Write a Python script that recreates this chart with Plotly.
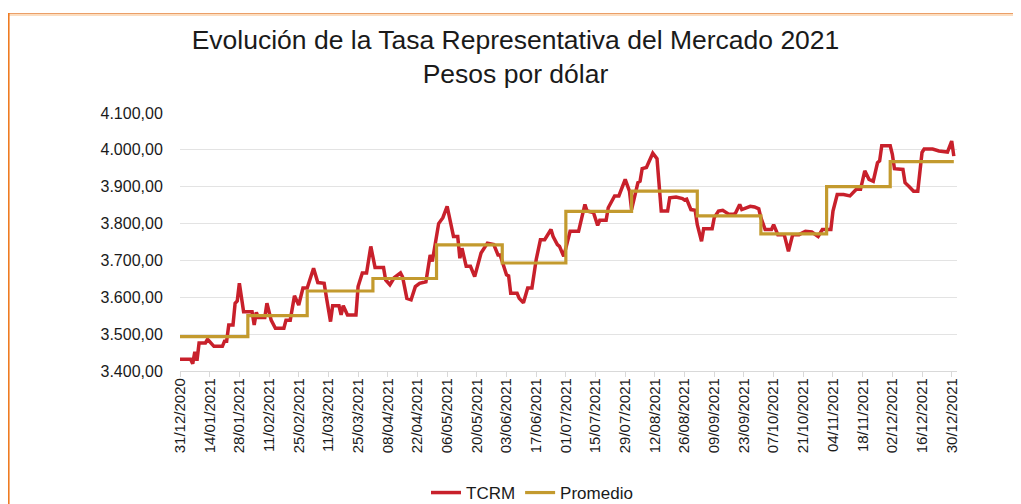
import datetime as dt
import plotly.graph_objects as go

# ---------------- data ----------------
tcrm_dates = [
    "2020-12-31", "2021-01-05", "2021-01-06", "2021-01-07", "2021-01-08", "2021-01-09",
    "2021-01-12", "2021-01-13", "2021-01-16", "2021-01-20", "2021-01-21", "2021-01-22",
    "2021-01-23", "2021-01-25", "2021-01-26", "2021-01-27", "2021-01-28", "2021-01-30",
    "2021-02-03", "2021-02-04", "2021-02-05", "2021-02-06", "2021-02-09", "2021-02-10",
    "2021-02-12", "2021-02-14", "2021-02-18", "2021-02-19", "2021-02-21", "2021-02-23",
    "2021-02-25", "2021-02-27", "2021-03-01", "2021-03-04", "2021-03-06", "2021-03-09",
    "2021-03-10", "2021-03-12", "2021-03-13", "2021-03-16", "2021-03-17", "2021-03-18",
    "2021-03-20", "2021-03-24", "2021-03-25", "2021-03-27", "2021-03-29", "2021-03-31",
    "2021-04-02", "2021-04-06", "2021-04-07", "2021-04-09", "2021-04-11", "2021-04-14",
    "2021-04-15", "2021-04-17", "2021-04-19", "2021-04-21", "2021-04-23", "2021-04-26",
    "2021-04-28", "2021-04-29", "2021-05-02", "2021-05-04", "2021-05-06", "2021-05-09",
    "2021-05-11", "2021-05-12", "2021-05-13", "2021-05-15", "2021-05-17", "2021-05-19",
    "2021-05-22", "2021-05-25", "2021-05-28", "2021-05-30", "2021-05-31", "2021-06-03",
    "2021-06-04", "2021-06-05", "2021-06-08", "2021-06-09", "2021-06-11", "2021-06-13",
    "2021-06-15", "2021-06-17", "2021-06-19", "2021-06-21", "2021-06-24", "2021-06-25",
    "2021-06-27", "2021-06-28", "2021-06-30", "2021-07-02", "2021-07-03", "2021-07-07",
    "2021-07-10", "2021-07-11", "2021-07-14", "2021-07-16", "2021-07-17", "2021-07-20",
    "2021-07-21", "2021-07-24", "2021-07-26", "2021-07-29", "2021-07-31", "2021-08-01",
    "2021-08-02", "2021-08-04", "2021-08-05", "2021-08-06", "2021-08-08", "2021-08-11",
    "2021-08-13", "2021-08-15", "2021-08-18", "2021-08-19", "2021-08-22", "2021-08-25",
    "2021-08-26", "2021-08-27", "2021-08-29", "2021-08-31", "2021-09-01", "2021-09-03",
    "2021-09-04", "2021-09-08", "2021-09-09", "2021-09-11", "2021-09-13", "2021-09-16",
    "2021-09-18", "2021-09-19", "2021-09-21", "2021-09-22", "2021-09-26", "2021-09-28",
    "2021-09-30", "2021-10-01", "2021-10-03", "2021-10-06", "2021-10-07", "2021-10-09",
    "2021-10-12", "2021-10-14", "2021-10-16", "2021-10-19", "2021-10-22", "2021-10-25",
    "2021-10-28", "2021-10-30", "2021-11-03", "2021-11-04", "2021-11-06", "2021-11-09",
    "2021-11-12", "2021-11-15", "2021-11-17", "2021-11-19", "2021-11-21", "2021-11-23",
    "2021-11-25", "2021-11-26", "2021-11-27", "2021-12-01", "2021-12-02", "2021-12-03",
    "2021-12-07", "2021-12-08", "2021-12-10", "2021-12-12", "2021-12-14", "2021-12-16",
    "2021-12-17", "2021-12-21", "2021-12-24", "2021-12-28", "2021-12-30", "2021-12-31",
]
tcrm_values = [
    3432, 3432, 3420, 3452, 3428, 3476,
    3476, 3486, 3467, 3467, 3481, 3481,
    3525, 3525, 3584, 3590, 3638, 3561,
    3561, 3525, 3559, 3545, 3545, 3584,
    3538, 3516, 3516, 3538, 3538, 3604,
    3579, 3625, 3625, 3679, 3640, 3638,
    3602, 3534, 3577, 3577, 3552, 3577,
    3552, 3552, 3629, 3666, 3666, 3738,
    3681, 3681, 3647, 3634, 3653, 3666,
    3655, 3597, 3593, 3629, 3638, 3642,
    3715, 3697, 3800, 3816, 3847, 3765,
    3765, 3706, 3733, 3684, 3684, 3656,
    3720, 3747, 3743, 3715, 3715, 3661,
    3658, 3611, 3611, 3597, 3585, 3625,
    3625, 3702, 3756, 3756, 3784, 3765,
    3743, 3738, 3711, 3752, 3779, 3779,
    3852, 3834, 3830, 3795, 3809, 3809,
    3843, 3875, 3875, 3920, 3888, 3838,
    3866, 3911, 3915, 3949, 3952, 3991,
    3976, 3834, 3834, 3870, 3872, 3868,
    3864, 3866, 3838, 3836, 3797, 3752,
    3786, 3786, 3816, 3834, 3836, 3825,
    3825, 3828, 3852, 3838, 3847, 3845,
    3840, 3816, 3784, 3784, 3797, 3770,
    3770, 3725, 3770, 3770, 3779, 3777,
    3765, 3784, 3784, 3834, 3879, 3879,
    3875, 3893, 3893, 3943, 3920, 3915,
    3965, 3970, 4011, 4011, 3988, 3949,
    3947, 3911, 3900, 3888, 3888, 3993,
    4002, 4002, 3997, 3994, 4024, 3983,
]

# monthly average (Promedio): start date of each month's segment and its value
promedio_starts = [
    "2020-12-31", "2021-02-01", "2021-03-01", "2021-04-01", "2021-05-01", "2021-06-01",
    "2021-07-01", "2021-08-01", "2021-09-01", "2021-10-01", "2021-11-01", "2021-12-01",
]
promedio_values = [3493, 3550, 3617, 3651, 3742, 3693, 3833, 3888, 3821, 3772, 3900, 3968]
promedio_end = "2021-12-31"

x_tick_labels = [
    "31/12/2020", "14/01/2021", "28/01/2021", "11/02/2021", "25/02/2021", "11/03/2021",
    "25/03/2021", "08/04/2021", "22/04/2021", "06/05/2021", "20/05/2021", "03/06/2021",
    "17/06/2021", "01/07/2021", "15/07/2021", "29/07/2021", "12/08/2021", "26/08/2021",
    "09/09/2021", "23/09/2021", "07/10/2021", "21/10/2021", "04/11/2021", "18/11/2021",
    "02/12/2021", "16/12/2021", "30/12/2021",
]
y_tick_values = [3400, 3500, 3600, 3700, 3800, 3900, 4000, 4100]

title_line1 = "Evolución de la Tasa Representativa del Mercado 2021"
title_line2 = "Pesos por dólar"

# ---------------- figure ----------------
# the page body adds an 8px offset, so the figure is 8px smaller than the window
OFF = 8
W, H = 1021 - OFF, 504 - OFF
L, R, T, B = 180 - OFF, 1021 - 957, 113 - OFF, 504 - 371
FONT = "Liberation Sans, Arial, sans-serif"
RED = "#c8202b"
GOLD = "#c39a2e"

x_tick_vals = [dt.datetime.strptime(s, "%d/%m/%Y").strftime("%Y-%m-%d") for s in x_tick_labels]

fig = go.Figure()
fig.add_trace(go.Scatter(
    x=tcrm_dates, y=tcrm_values, mode="lines", name="TCRM",
    line=dict(color=RED, width=3.5),
))
fig.add_trace(go.Scatter(
    x=promedio_starts + [promedio_end],
    y=promedio_values + [promedio_values[-1]],
    mode="lines", name="Promedio",
    line=dict(color=GOLD, width=3.2, shape="hv"),
))

pw = W - L - R
ph = H - T - B


def px_x(p):
    """page pixel -> paper x"""
    return (p - OFF - L) / pw


def px_y(p):
    """page pixel -> paper y"""
    return (H - B - (p - OFF)) / ph


shapes = [
    dict(type="line", xref="paper", yref="paper", x0=px_x(8), x1=px_x(1021), y0=px_y(13.5), y1=px_y(13.5),
         line=dict(color="#eb9f68", width=1.2)),
    dict(type="line", xref="paper", yref="paper", x0=px_x(9), x1=px_x(1021), y0=px_y(15), y1=px_y(15),
         line=dict(color="#fbd3ad", width=1.6)),
    dict(type="line", xref="paper", yref="paper", x0=px_x(8.8), x1=px_x(8.8), y0=px_y(13), y1=px_y(504),
         line=dict(color="#ee7b22", width=1.6)),
]

fig.update_layout(
    width=W, height=H,
    margin=dict(l=L, r=R, t=T, b=B, pad=0, autoexpand=False),
    paper_bgcolor="white", plot_bgcolor="white",
    separators=",.",
    font=dict(family=FONT, color="#1a1a1a"),
    title=dict(
        text=title_line1 + "<br>" + title_line2,
        x=(515.5 - OFF) / W, xanchor="center", xref="container",
        y=1 - 41 / H, yanchor="top", yref="container",
        font=dict(size=26.5, color="#1a1a1a", family=FONT),
    ),
    showlegend=True,
    legend=dict(
        orientation="h", xref="container", yref="container",
        x=(532 - OFF) / W, xanchor="center", y=1 - (493 - OFF) / H, yanchor="middle",
        font=dict(size=17, color="#1a1a1a"), itemwidth=30,
        bgcolor="rgba(0,0,0,0)", tracegroupgap=0,
    ),
    shapes=shapes,
    xaxis=dict(
        type="date", automargin=False,
        range=["2020-12-31", "2022-01-01 12:00"],
        tickmode="array", tickvals=x_tick_vals, ticktext=x_tick_labels,
        tickangle=-90, tickfont=dict(size=15, color="#1a1a1a"),
        ticklabelstandoff=-5,
        showgrid=False, zeroline=False,
        showline=True, linecolor="#d9d9d9", linewidth=1.3,
        ticks="outside", ticklen=5, tickcolor="#d9d9d9", tickwidth=1.3,
    ),
    yaxis=dict(
        range=[3400, 4100], tickmode="array", tickvals=y_tick_values,
        tickformat=",.2f", automargin=False,
        tickfont=dict(size=16, color="#1a1a1a"),
        showgrid=True, gridcolor="#e3e3e3", gridwidth=1.3,
        zeroline=False, showline=False,
        ticks="outside", ticklen=13, tickcolor="rgba(0,0,0,0)",
    ),
)

fig.write_html("out.html")
